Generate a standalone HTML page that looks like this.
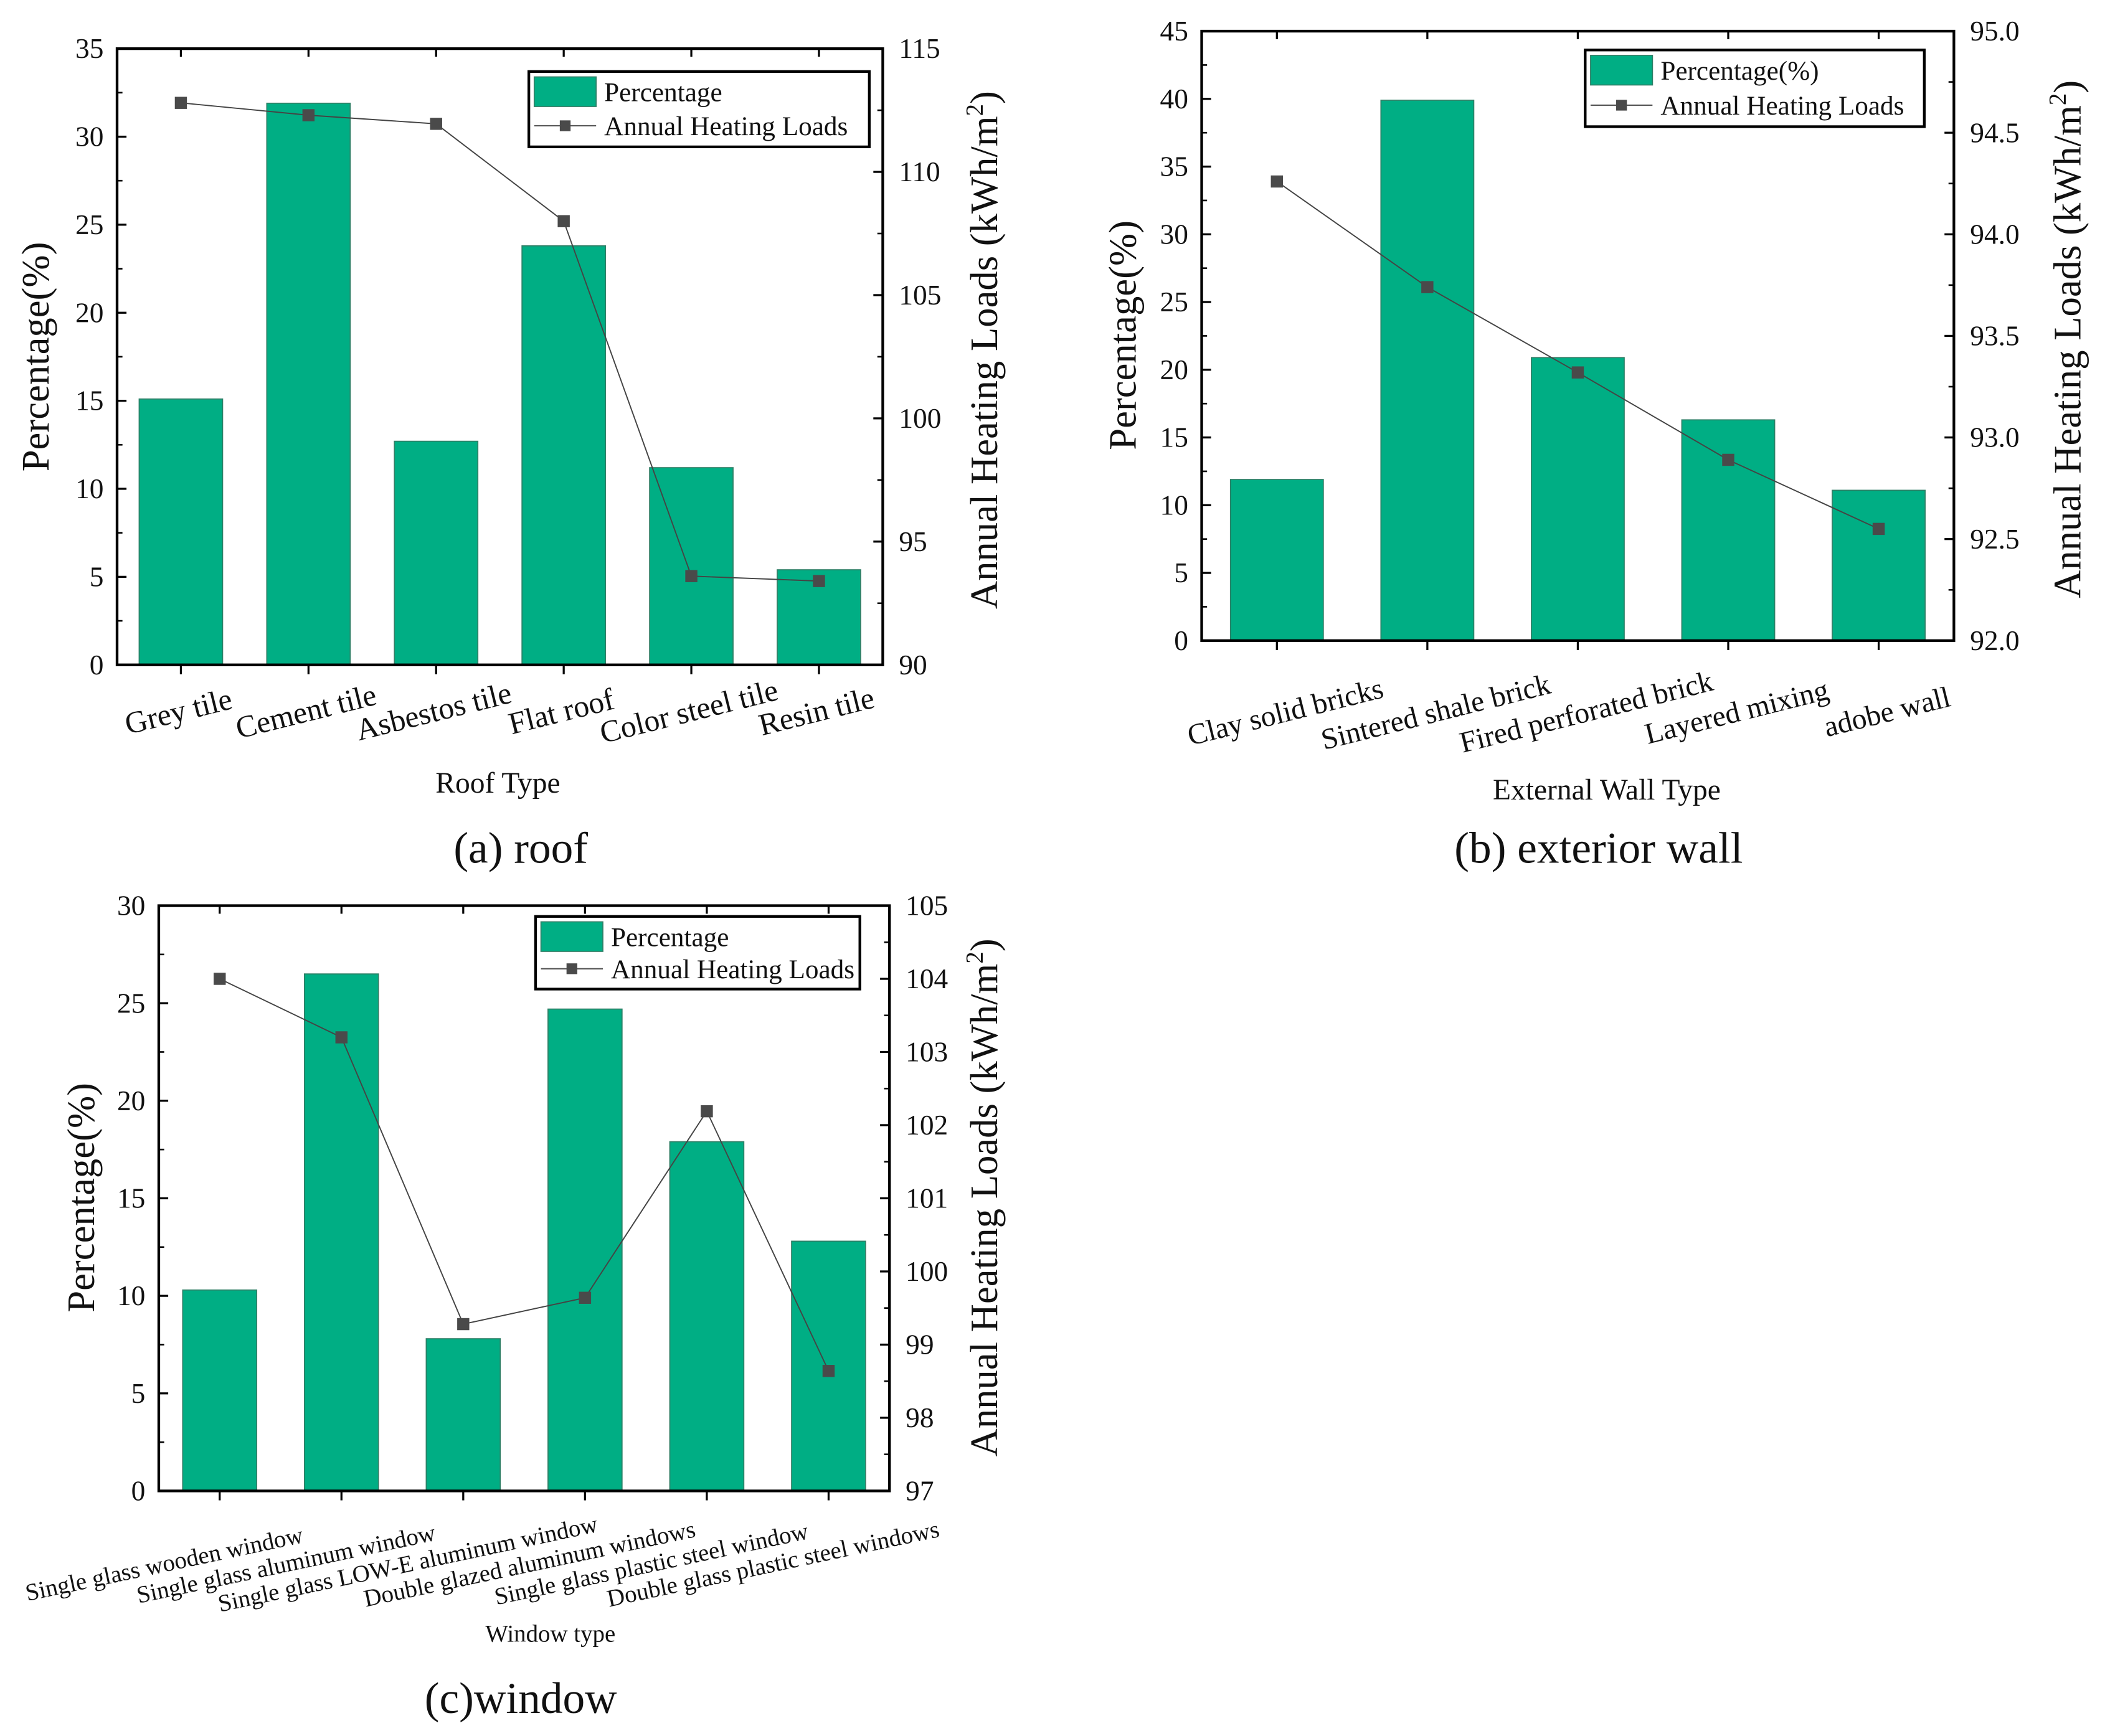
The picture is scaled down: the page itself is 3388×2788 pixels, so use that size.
<!DOCTYPE html>
<html><head><meta charset="utf-8">
<style>
html,body{margin:0;padding:0;background:#fff;}
svg{display:block;}
text{font-family:"Liberation Serif","DejaVu Serif",serif;}
</style></head>
<body>
<svg id="fig" width="3388" height="2788" viewBox="0 0 1568 1290" xmlns="http://www.w3.org/2000/svg" font-family="Liberation Serif, serif">
</svg>
<script>
// ---- Chart (a) roof ----
const roofCategories = ["Grey tile","Cement tile","Asbestos tile","Flat roof","Color steel tile","Resin tile"];
const roofPercent = [15.1, 31.9, 12.7, 23.8, 11.2, 5.4];
const roofLoads = [112.8, 112.3, 111.95, 108.0, 93.6, 93.4];
const roofLeftTicks = ["0","5","10","15","20","25","30","35"];
const roofRightTicks = ["90","95","100","105","110","115"];
// ---- Chart (b) exterior wall ----
const wallCategories = ["Clay solid bricks","Sintered shale brick","Fired perforated brick","Layered mixing","adobe wall"];
const wallPercent = [11.9, 39.9, 20.9, 16.3, 11.1];
const wallLoads = [94.26, 93.74, 93.32, 92.89, 92.55];
const wallLeftTicks = ["0","5","10","15","20","25","30","35","40","45"];
const wallRightTicks = ["92.0","92.5","93.0","93.5","94.0","94.5","95.0"];
// ---- Chart (c) window ----
const windowCategories = ["Single glass wooden window","Single glass aluminum window","Single glass LOW-E aluminum window","Double glazed aluminum windows","Single glass plastic steel window","Double glass plastic steel windows"];
const windowPercent = [10.3, 26.5, 7.8, 24.7, 17.9, 12.8];
const windowLoads = [104.0, 103.2, 99.28, 99.64, 102.19, 98.64];
const windowLeftTicks = ["0","5","10","15","20","25","30"];
const windowRightTicks = ["97","98","99","100","101","102","103","104","105"];

const NS = "http://www.w3.org/2000/svg";
const FF = "Liberation Serif, DejaVu Serif, serif";
const svg = document.getElementById("fig");
function mk(tag, attrs, parent){
  const e = document.createElementNS(NS, tag);
  for (const k in attrs) e.setAttribute(k, attrs[k]);
  if (tag === "text") e.setAttribute("font-family", FF);
  (parent||svg).appendChild(e);
  return e;
}

function drawChart(o){
  const g = mk("g", {});
  
  
  const L=o.left,R=o.right,T=o.top,B=o.bottom;
  const lMin=parseFloat(o.lt[0]), lMax=parseFloat(o.lt[o.lt.length-1]);
  const rMin=parseFloat(o.rt[0]), rMax=parseFloat(o.rt[o.rt.length-1]);
  const yl = v => B - (v-lMin)/(lMax-lMin)*(B-T);
  const yr = v => B - (v-rMin)/(rMax-rMin)*(B-T);
  const n = o.cats.length;
  const step = (R-L)/n;
  const xc = i => L + step*(i+0.5);
  o.pct.forEach((v,i)=>{
    const r = mk("rect",{x:xc(i)-o.bw/2,y:yl(v),width:o.bw,height:B-yl(v),fill:"#00ae84",stroke:"#2f7f66","stroke-width":0.8},g);
    
    
  });
  const pts = o.loads.map((v,i)=>xc(i)+","+yr(v)).join(" ");
  const pl = mk("polyline",{points:pts,fill:"none",stroke:"#444","stroke-width":0.9},g);
  
  
  o.loads.forEach((v,i)=>{
    const m = mk("rect",{x:xc(i)-4.5,y:yr(v)-4.5,width:9,height:9,fill:"#4a4a4a"},g);
    
    
  });
  const fr = mk("rect",{x:L,y:T,width:R-L,height:B-T,fill:"none",stroke:"#000","stroke-width":2},g);
  
  
  const nl=o.lt.length;
  for(let k=0;k<nl;k++){
    const v=parseFloat(o.lt[k]); const y=yl(v);
    mk("line",{x1:L,x2:L+7,y1:y,y2:y,stroke:"#000","stroke-width":1.5},g);
    if(k<nl-1){const ym=yl(v+(parseFloat(o.lt[1])-parseFloat(o.lt[0]))/2); mk("line",{x1:L,x2:L+4,y1:ym,y2:ym,stroke:"#000","stroke-width":1.2},g);}
    const t=mk("text",{x:L-10,y:y+7,"text-anchor":"end","font-size":o.tfs,fill:"#111"},g);
    t.textContent=o.lt[k];
    
    
  }
  const nr=o.rt.length;
  const rstep=parseFloat(o.rt[1])-parseFloat(o.rt[0]);
  for(let k=0;k<nr;k++){
    const v=parseFloat(o.rt[k]); const y=yr(v);
    mk("line",{x1:R,x2:R-7,y1:y,y2:y,stroke:"#000","stroke-width":1.5},g);
    if(k<nr-1){const ym=yr(v+rstep/2); mk("line",{x1:R,x2:R-4,y1:ym,y2:ym,stroke:"#000","stroke-width":1.2},g);}
    const t=mk("text",{x:R+12,y:y+7,"text-anchor":"start","font-size":o.tfs,fill:"#111"},g);
    t.textContent=o.rt[k];
    
    
  }
  o.cats.forEach((c,i)=>{
    const x=xc(i);
    mk("line",{x1:x,x2:x,y1:B,y2:B+7,stroke:"#000","stroke-width":1.5},g);
    mk("line",{x1:x,x2:x,y1:T,y2:T+6,stroke:"#000","stroke-width":1.5},g);
    const lx=x+o.ldx, ly=B+o.ldy;
    const t=mk("text",{x:lx,y:ly,"text-anchor":"middle","font-size":o.cfs,fill:"#111",transform:"rotate("+o.rot+" "+lx+" "+ly+")"},g);
    t.textContent=c;
    
    
  });
  const xt=mk("text",{x:o.xt[0],y:o.xt[1],"text-anchor":"middle","font-size":o.xt[3],fill:"#111"},g);
  xt.textContent=o.xt[2];
  
  
  const ylt=mk("text",{x:o.ylt[0],y:o.ylt[1],"text-anchor":"middle","font-size":29,fill:"#111",transform:"rotate(-90 "+o.ylt[0]+" "+o.ylt[1]+")"},g);
  ylt.textContent="Percentage(%)";
  
  
  const yrt=mk("text",{x:o.yrt[0],y:o.yrt[1],"text-anchor":"middle","font-size":29,fill:"#111",transform:"rotate(-90 "+o.yrt[0]+" "+o.yrt[1]+")"},g);
  yrt.innerHTML='Annual Heating Loads (kWh/m<tspan dy="-11" font-size="18">2</tspan><tspan dy="11">)</tspan>';
  
  
  const [lx,ly,lw,lh]=o.leg;
  const lg=mk("g",{},g);
  
  
  mk("rect",{x:lx,y:ly,width:lw,height:lh,fill:"#fff",stroke:"#000","stroke-width":2},lg);
  mk("rect",{x:lx+4,y:ly+4,width:46,height:22,fill:"#00ae84",stroke:"#2f7f66","stroke-width":0.8},lg);
  const t1=mk("text",{x:lx+56,y:ly+22,"font-size":20,fill:"#111"},lg); t1.textContent=o.legText;
  
  
  const ry=ly+lh*0.72;
  mk("line",{x1:lx+4,x2:lx+50,y1:ry,y2:ry,stroke:"#555","stroke-width":1},lg);
  mk("rect",{x:lx+23,y:ry-4,width:8,height:8,fill:"#4a4a4a"},lg);
  const t2=mk("text",{x:lx+56,y:ry+7,"font-size":20,fill:"#111"},lg); t2.textContent="Annual Heating Loads";
  
  
  const cp=mk("text",{x:o.cap[0],y:o.cap[1],"text-anchor":"middle","font-size":33,fill:"#111"},g);
  cp.textContent=o.cap[2];
  
  
}

drawChart({id:"roof",left:87,right:656,top:36,bottom:494,bw:62,cats:roofCategories,pct:roofPercent,loads:roofLoads,lt:roofLeftTicks,rt:roofRightTicks,tfs:21,cfs:23,rot:-14,ldx:0,ldy:42,
  xt:[370,589,"Roof Type",22],ylt:[36,265],yrt:[741,260],leg:[393,53,253,56],legText:"Percentage",cap:[387,641,"(a) roof"]});
drawChart({id:"wall",left:893,right:1452,top:23,bottom:476,bw:69,cats:wallCategories,pct:wallPercent,loads:wallLoads,lt:wallLeftTicks,rt:wallRightTicks,tfs:21,cfs:22,rot:-14,ldx:8,ldy:60,
  xt:[1194,594,"External Wall Type",22],ylt:[844,249],yrt:[1546,252],leg:[1178,37,252,57],legText:"Percentage(%)",cap:[1188,641,"(b) exterior wall"]});
drawChart({id:"window",left:118,right:661,top:673,bottom:1108,bw:55,cats:windowCategories,pct:windowPercent,loads:windowLoads,lt:windowLeftTicks,rt:windowRightTicks,tfs:21,cfs:18,rot:-12,ldx:-40,ldy:60,
  xt:[409,1220,"Window type",18],ylt:[70,890],yrt:[741,890],leg:[398,681,241,54],legText:"Percentage",cap:[387,1273,"(c)window"]});
</script>
</body></html>
